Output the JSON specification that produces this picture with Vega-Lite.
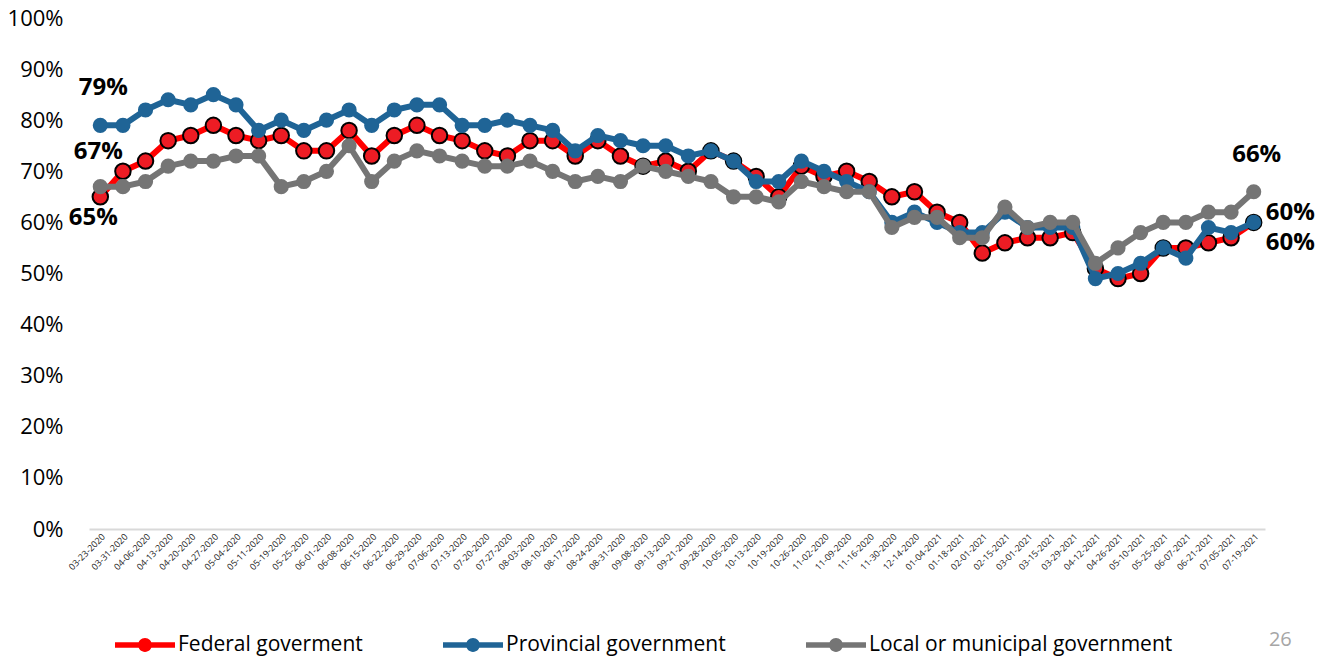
{
  "$schema": "https://vega.github.io/schema/vega-lite/v6.json",
  "width": 1176,
  "height": 511,
  "autosize": {"type": "none"},
  "padding": {"left": 89, "top": 18, "right": 65, "bottom": 128},
  "background": "white",
  "config": {"view": {"stroke": null}, "font": "Open Sans"},
  "title": {"text": "26", "orient": "bottom", "anchor": "end", "color": "#a6a6a6", "fontSize": 20, "fontWeight": "normal", "font": "Open Sans", "offset": -25, "dx": -23},
  "datasets": {
    "wide": [
      {"d":"03-23-2020","Federal goverment":65,"Provincial government":79,"Local or municipal government":67},
      {"d":"03-31-2020","Federal goverment":70,"Provincial government":79,"Local or municipal government":67},
      {"d":"04-06-2020","Federal goverment":72,"Provincial government":82,"Local or municipal government":68},
      {"d":"04-13-2020","Federal goverment":76,"Provincial government":84,"Local or municipal government":71},
      {"d":"04-20-2020","Federal goverment":77,"Provincial government":83,"Local or municipal government":72},
      {"d":"04-27-2020","Federal goverment":79,"Provincial government":85,"Local or municipal government":72},
      {"d":"05-04-2020","Federal goverment":77,"Provincial government":83,"Local or municipal government":73},
      {"d":"05-11-2020","Federal goverment":76,"Provincial government":78,"Local or municipal government":73},
      {"d":"05-19-2020","Federal goverment":77,"Provincial government":80,"Local or municipal government":67},
      {"d":"05-25-2020","Federal goverment":74,"Provincial government":78,"Local or municipal government":68},
      {"d":"06-01-2020","Federal goverment":74,"Provincial government":80,"Local or municipal government":70},
      {"d":"06-08-2020","Federal goverment":78,"Provincial government":82,"Local or municipal government":75},
      {"d":"06-15-2020","Federal goverment":73,"Provincial government":79,"Local or municipal government":68},
      {"d":"06-22-2020","Federal goverment":77,"Provincial government":82,"Local or municipal government":72},
      {"d":"06-29-2020","Federal goverment":79,"Provincial government":83,"Local or municipal government":74},
      {"d":"07-06-2020","Federal goverment":77,"Provincial government":83,"Local or municipal government":73},
      {"d":"07-13-2020","Federal goverment":76,"Provincial government":79,"Local or municipal government":72},
      {"d":"07-20-2020","Federal goverment":74,"Provincial government":79,"Local or municipal government":71},
      {"d":"07-27-2020","Federal goverment":73,"Provincial government":80,"Local or municipal government":71},
      {"d":"08-03-2020","Federal goverment":76,"Provincial government":79,"Local or municipal government":72},
      {"d":"08-10-2020","Federal goverment":76,"Provincial government":78,"Local or municipal government":70},
      {"d":"08-17-2020","Federal goverment":73,"Provincial government":74,"Local or municipal government":68},
      {"d":"08-24-2020","Federal goverment":76,"Provincial government":77,"Local or municipal government":69},
      {"d":"08-31-2020","Federal goverment":73,"Provincial government":76,"Local or municipal government":68},
      {"d":"09-08-2020","Federal goverment":71,"Provincial government":75,"Local or municipal government":71},
      {"d":"09-13-2020","Federal goverment":72,"Provincial government":75,"Local or municipal government":70},
      {"d":"09-21-2020","Federal goverment":70,"Provincial government":73,"Local or municipal government":69},
      {"d":"09-28-2020","Federal goverment":74,"Provincial government":74,"Local or municipal government":68},
      {"d":"10-05-2020","Federal goverment":72,"Provincial government":72,"Local or municipal government":65},
      {"d":"10-13-2020","Federal goverment":69,"Provincial government":68,"Local or municipal government":65},
      {"d":"10-19-2020","Federal goverment":65,"Provincial government":68,"Local or municipal government":64},
      {"d":"10-26-2020","Federal goverment":71,"Provincial government":72,"Local or municipal government":68},
      {"d":"11-02-2020","Federal goverment":69,"Provincial government":70,"Local or municipal government":67},
      {"d":"11-09-2020","Federal goverment":70,"Provincial government":68,"Local or municipal government":66},
      {"d":"11-16-2020","Federal goverment":68,"Provincial government":66,"Local or municipal government":66},
      {"d":"11-30-2020","Federal goverment":65,"Provincial government":60,"Local or municipal government":59},
      {"d":"12-14-2020","Federal goverment":66,"Provincial government":62,"Local or municipal government":61},
      {"d":"01-04-2021","Federal goverment":62,"Provincial government":60,"Local or municipal government":61},
      {"d":"01-18-2021","Federal goverment":60,"Provincial government":58,"Local or municipal government":57},
      {"d":"02-01-2021","Federal goverment":54,"Provincial government":58,"Local or municipal government":57},
      {"d":"02-15-2021","Federal goverment":56,"Provincial government":62,"Local or municipal government":63},
      {"d":"03-01-2021","Federal goverment":57,"Provincial government":59,"Local or municipal government":59},
      {"d":"03-15-2021","Federal goverment":57,"Provincial government":59,"Local or municipal government":60},
      {"d":"03-29-2021","Federal goverment":58,"Provincial government":59,"Local or municipal government":60},
      {"d":"04-12-2021","Federal goverment":51,"Provincial government":49,"Local or municipal government":52},
      {"d":"04-26-2021","Federal goverment":49,"Provincial government":50,"Local or municipal government":55},
      {"d":"05-10-2021","Federal goverment":50,"Provincial government":52,"Local or municipal government":58},
      {"d":"05-25-2021","Federal goverment":55,"Provincial government":55,"Local or municipal government":60},
      {"d":"06-07-2021","Federal goverment":55,"Provincial government":53,"Local or municipal government":60},
      {"d":"06-21-2021","Federal goverment":56,"Provincial government":59,"Local or municipal government":62},
      {"d":"07-05-2021","Federal goverment":57,"Provincial government":58,"Local or municipal government":62},
      {"d":"07-19-2021","Federal goverment":60,"Provincial government":60,"Local or municipal government":66}
    ]
  },
  "data": {"name": "wide"},
  "transform": [
    {"fold": ["Federal goverment", "Provincial government", "Local or municipal government"], "as": ["series", "value"]}
  ],
  "encoding": {
    "x": {
      "field": "d", "type": "ordinal", "sort": null,
      "scale": {"type": "point", "padding": 0.5},
      "axis": {"title": null, "labelAngle": -45, "labelFontSize": 9, "labelColor": "#222222", "labelFont": "Open Sans", "ticks": false, "domainColor": "#d9d9d9", "domainWidth": 2, "labelPadding": 3}
    },
    "y": {
      "field": "value", "type": "quantitative",
      "scale": {"domain": [0, 100]},
      "axis": {"title": null, "values": [0,10,20,30,40,50,60,70,80,90,100], "labelExpr": "datum.value + '%'", "grid": false, "domain": false, "ticks": false, "labelFontSize": 22, "labelColor": "#000000", "labelPadding": 26, "labelFont": "Open Sans"}
    },
    "color": {
      "field": "series", "type": "nominal",
      "scale": {"domain": ["Federal goverment", "Provincial government", "Local or municipal government"], "range": ["#ff0000", "#1f6496", "#757575"]},
      "legend": {
        "title": null, "orient": "none", "legendX": 26, "legendY": 597, "direction": "horizontal",
        "symbolType": "M-1,-0.09 L1,-0.09 L1,0.09 L-1,0.09 Z M0.23,0 A0.23,0.23 0 1,1 -0.23,0 A0.23,0.23 0 1,1 0.23,0 Z",
        "symbolSize": 3600, "symbolStrokeWidth": 0, "symbolOpacity": 1,
        "labelFontSize": 21, "labelFont": "Open Sans", "labelColor": "#000000", "labelOffset": 3, "labelLimit": 500,
        "columnPadding": 80,
        "encode": {"symbols": {"update": {"fill": {"signal": "scale('color', datum.value)"}, "strokeWidth": {"value": 0}, "opacity": {"value": 1}}}}
      }
    }
  },
  "layer": [
    {"transform": [{"filter": "datum.series == 'Federal goverment'"}], "mark": {"type": "line", "strokeWidth": 6, "strokeJoin": "round"}},
    {"transform": [{"filter": "datum.series == 'Federal goverment'"}], "mark": {"type": "point", "filled": true, "size": 240, "fill": "#ed1c24", "stroke": "#000000", "strokeWidth": 2, "opacity": 1}},
    {"transform": [{"filter": "datum.series == 'Provincial government'"}], "mark": {"type": "line", "strokeWidth": 6, "strokeJoin": "round"}},
    {"transform": [{"filter": "datum.series == 'Provincial government'"}], "mark": {"type": "point", "filled": true, "size": 230, "opacity": 1}},
    {"transform": [{"filter": "datum.series == 'Local or municipal government'"}], "mark": {"type": "line", "strokeWidth": 6, "strokeJoin": "round"}},
    {"transform": [{"filter": "datum.series == 'Local or municipal government'"}], "mark": {"type": "point", "filled": true, "size": 230, "opacity": 1}},
    {
      "data": {"values": [{"d": "03-23-2020", "value": 79, "t": "79%"}, {"d": "07-19-2021", "value": 66, "t": "66%"}]},
      "transform": [],
      "mark": {"type": "text", "fontSize": 24, "fontWeight": "bold", "font": "Open Sans", "dy": -37, "dx": 3},
      "encoding": {"text": {"field": "t"}, "color": {"value": "#000000"}}
    },
    {
      "data": {"values": [{"d": "03-23-2020", "value": 67, "t": "67%"}]},
      "transform": [],
      "mark": {"type": "text", "fontSize": 24, "fontWeight": "bold", "font": "Open Sans", "dy": -35, "dx": -2},
      "encoding": {"text": {"field": "t"}, "color": {"value": "#000000"}}
    },
    {
      "data": {"values": [{"d": "03-23-2020", "value": 65, "t": "65%"}]},
      "transform": [],
      "mark": {"type": "text", "fontSize": 24, "fontWeight": "bold", "font": "Open Sans", "dy": 21, "dx": -7},
      "encoding": {"text": {"field": "t"}, "color": {"value": "#000000"}}
    },
    {
      "data": {"values": [{"d": "07-19-2021", "value": 60, "t": "60%"}]},
      "transform": [],
      "mark": {"type": "text", "fontSize": 24, "fontWeight": "bold", "font": "Open Sans", "align": "left", "dy": -9, "dx": 12},
      "encoding": {"text": {"field": "t"}, "color": {"value": "#000000"}}
    },
    {
      "data": {"values": [{"d": "07-19-2021", "value": 60, "t": "60%"}]},
      "transform": [],
      "mark": {"type": "text", "fontSize": 24, "fontWeight": "bold", "font": "Open Sans", "align": "left", "dy": 21, "dx": 12},
      "encoding": {"text": {"field": "t"}, "color": {"value": "#000000"}}
    }
  ]
}
